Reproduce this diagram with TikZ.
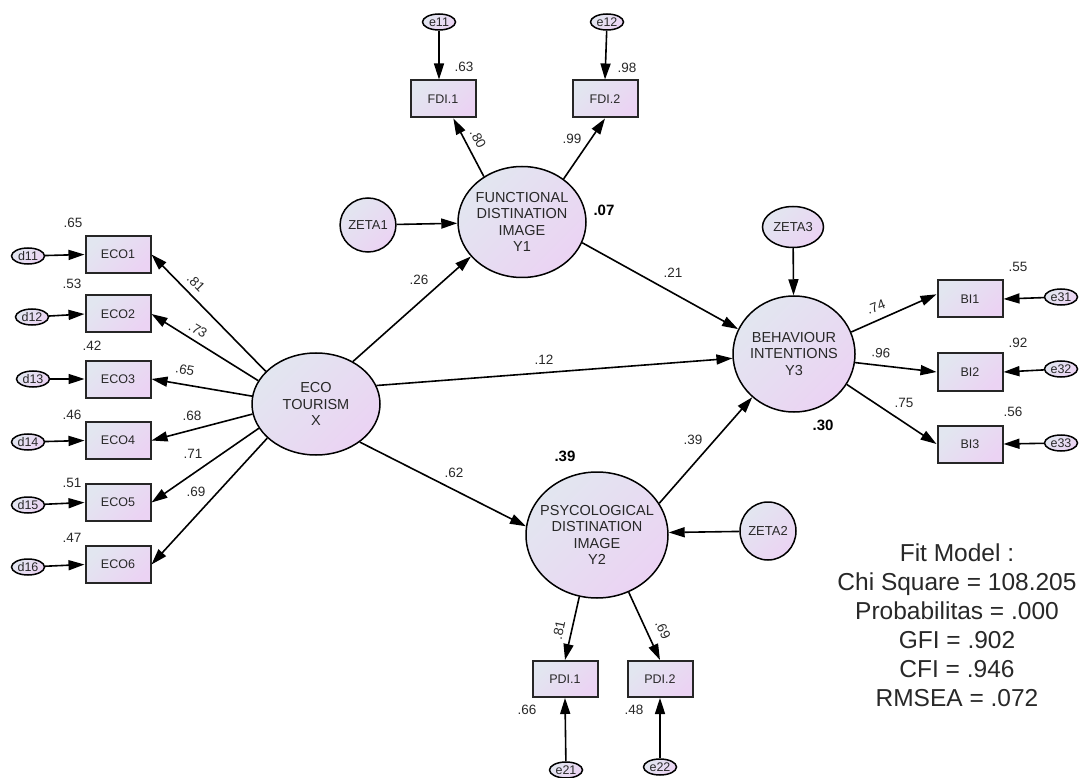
\documentclass[tikz,border=0pt]{standalone}
\usepackage{fontspec}
\setmainfont{Liberation Sans}
\usetikzlibrary{arrows.meta,shapes.geometric}
\definecolor{fillA}{RGB}{226,230,240}
\definecolor{fillB}{RGB}{235,211,243}
\definecolor{txt}{RGB}{40,40,40}
\begin{document}
\begin{tikzpicture}[x=1pt,y=-1pt,
  grad/.style={top color=fillA,bottom color=fillB,shading angle=45},
  latent/.style={ellipse,draw=black,line width=1.5pt,grad,inner sep=0pt},
  ltext/.style={align=center,font=\fontsize{14.5}{16.5}\selectfont,text=txt,inner sep=0pt},
  zeta/.style={ellipse,draw=black,line width=1.5pt,grad,inner sep=0pt,font=\fontsize{13}{14}\selectfont,text=txt},
  obs/.style={rectangle,draw=black!85,line width=2pt,grad,minimum width=65pt,minimum height=37pt,inner sep=0pt,font=\fontsize{12.5}{14}\selectfont,text=txt},
  err/.style={ellipse,draw=black,line width=1.5pt,grad,inner sep=0pt,minimum width=33pt,minimum height=16pt,font=\fontsize{12.5}{13}\selectfont,text=txt},
  lab/.style={font=\fontsize{13.5}{15}\selectfont,text=txt,inner sep=0pt},
  blab/.style={font=\fontsize{15}{16}\selectfont\bfseries,text=black,inner sep=0pt},
  arr/.style={-{Triangle[length=16pt,width=10pt]},line width=1.6pt,black},
]
\useasboundingbox[fill=white] (0,0) rectangle (1080,778);

% latent variables
\node[latent,minimum width=128pt,minimum height=102pt] (eco) at (316,404) {};
\node[ltext] (ecotx) at (eco) {ECO\\TOURISM\\X};
\node[latent,minimum width=128pt,minimum height=111pt] (f) at (522,222) {};
\node[ltext] (ftx) at (f) {FUNCTIONAL\\DISTINATION\\IMAGE\\Y1};
\node[latent,minimum width=122pt,minimum height=116pt] (y3) at (794,354) {};
\node[ltext] (y3tx) at (y3) {BEHAVIOUR\\INTENTIONS\\Y3};
\node[latent,minimum width=142pt,minimum height=126pt] (p) at (597,535) {};
\node[ltext] (ptx) at (p) {PSYCOLOGICAL\\DISTINATION\\IMAGE\\Y2};

% disturbances
\node[zeta,minimum width=52pt,minimum height=54pt] (z1) at (368,225) {ZETA1};
\node[zeta,minimum width=56pt,minimum height=58pt] (z2) at (768,531) {ZETA2};
\node[zeta,minimum width=61pt,minimum height=41pt] (z3) at (793,227) {ZETA3};

% ECO indicators
\node[obs] (eco1) at (118,254.5) {ECO1};
\node[obs] (eco2) at (118,314) {ECO2};
\node[obs] (eco3) at (118,379) {ECO3};
\node[obs] (eco4) at (118,440.5) {ECO4};
\node[obs] (eco5) at (118,502.5) {ECO5};
\node[obs] (eco6) at (118,564.5) {ECO6};
\node[err] (d11) at (28,256) {d11};
\node[err] (d12) at (32,317) {d12};
\node[err] (d13) at (33,379) {d13};
\node[err] (d14) at (28,442) {d14};
\node[err] (d15) at (28,505) {d15};
\node[err] (d16) at (28,567) {d16};

% FDI indicators
\node[obs] (fdi1) at (443,99) {FDI.1};
\node[obs] (fdi2) at (605,99) {FDI.2};
\node[err] (e11) at (439,22) {e11};
\node[err] (e12) at (607,22) {e12};

% BI indicators
\node[obs] (bi1) at (970,299) {BI1};
\node[obs] (bi2) at (970,372) {BI2};
\node[obs] (bi3) at (970,444) {BI3};
\node[err] (e31) at (1061,297) {e31};
\node[err] (e32) at (1061,369) {e32};
\node[err] (e33) at (1061,443) {e33};

% PDI indicators
\node[obs,minimum height=36pt] (pdi1) at (565,679) {PDI.1};
\node[obs,minimum height=36pt] (pdi2) at (660,679) {PDI.2};
\node[err] (e21) at (566,770) {e21};
\node[err] (e22) at (660,767) {e22};

% connectors
\draw[arr] (z1) -- (f);
\draw[arr] (eco.49) -- (f.214);
\draw[arr] (f.-19) -- (y3.156);
\draw[arr] (eco.17) -- (y3.184);
\draw[arr] (eco.-41) -- (p.173);
\draw[arr] (p.27) -- (y3.226);
\draw[arr] (z2) -- (p.2);
\draw[arr] (z3) -- (y3);
\draw[arr] (y3.21) -- (bi1.172);
\draw[arr] (y3.-8) -- (bi2.west);
\draw[arr] (y3.-30) -- (bi3.west);
\draw[arr] (e31) -- (bi1.east);
\draw[arr] (e32) -- (bi2.east);
\draw[arr] (e33) -- (bi3.east);
\draw[arr] (p.-106) -- (pdi1.north);
\draw[arr] (p.-61) -- (pdi2.north);
\draw[arr] (e21) -- (pdi1.south);
\draw[arr] (e22) -- (pdi2.south);
\draw[arr] (f.130) -- (fdi1.-62);
\draw[arr] (f.46) -- (fdi2.south);
\draw[arr] (e11) -- (e11 |- fdi1.north);
\draw[arr] (e12) -- (fdi2.north);
\draw[arr] (eco.147) -- (eco1.east);
\draw[arr] (eco.158) -- (eco2.east);
\draw[arr] (eco.173) -- (eco3.east);
\draw[arr] (eco.189) -- (eco4.east);
\draw[arr] (eco.203) -- (eco5.east);
\draw[arr] (eco.215) -- (eco6.east);
\draw[arr] (d11) -- (eco1.west);
\draw[arr] (d12) -- (eco2.west);
\draw[arr] (d13) -- (eco3.west);
\draw[arr] (d14) -- (eco4.west);
\draw[arr] (d15) -- (eco5.west);
\draw[arr] (d16) -- (eco6.west);

% squared multiple correlations
\node[lab] (r1) at (73,223) {.65};
\node[lab] (r2) at (72,284) {.53};
\node[lab] (r3) at (92,346) {.42};
\node[lab] (r4) at (72,415) {.46};
\node[lab] (r5) at (72,483) {.51};
\node[lab] (r6) at (72,538) {.47};
\node[lab] (r7) at (464,67) {.63};
\node[lab] (r8) at (627,68) {.98};
\node[lab] (r9) at (1018,267) {.55};
\node[lab] (r10) at (1018,343) {.92};
\node[lab] (r11) at (1013,412) {.56};
\node[lab] (r12) at (527,710) {.66};
\node[lab] (r13) at (634,710) {.48};
\node[blab] (r14) at (604,210) {.07};
\node[blab] (r15) at (565,456) {.39};
\node[blab] (r16) at (823,425) {.30};

% path coefficients
\node[lab,rotate=-45] (c1) at (196,283) {.81};
\node[lab,rotate=-31] (c2) at (198,330) {.73};
\node[lab,rotate=-11] (c3) at (185,370) {.65};
\node[lab] (c4) at (192,416) {.68};
\node[lab] (c5) at (193,454) {.71};
\node[lab] (c6) at (196,492) {.69};
\node[lab,rotate=-62] (c7) at (478,139) {.80};
\node[lab] (c8) at (572,139) {.99};
\node[lab] (c9) at (419,280) {.26};
\node[lab] (c10) at (673,273) {.21};
\node[lab] (c11) at (544,360) {.12};
\node[lab] (c12) at (454,473) {.62};
\node[lab] (c13) at (693,440) {.39};
\node[lab,rotate=21] (c14) at (876,307) {.74};
\node[lab,rotate=-5] (c15) at (881,353) {.96};
\node[lab] (c16) at (904,403) {.75};
\node[lab,rotate=78] (c17) at (559,630) {.81};
\node[lab,rotate=-66] (c18) at (663,630) {.69};

% fit model
\node[align=center,font=\fontsize{24.5}{29}\selectfont,text=txt,inner sep=0pt] (fit) at (957,625)
  {Fit Model :\\Chi Square = 108.205\\Probabilitas = .000\\GFI = .902\\CFI = .946\\RMSEA = .072};
\end{tikzpicture}
\end{document}
